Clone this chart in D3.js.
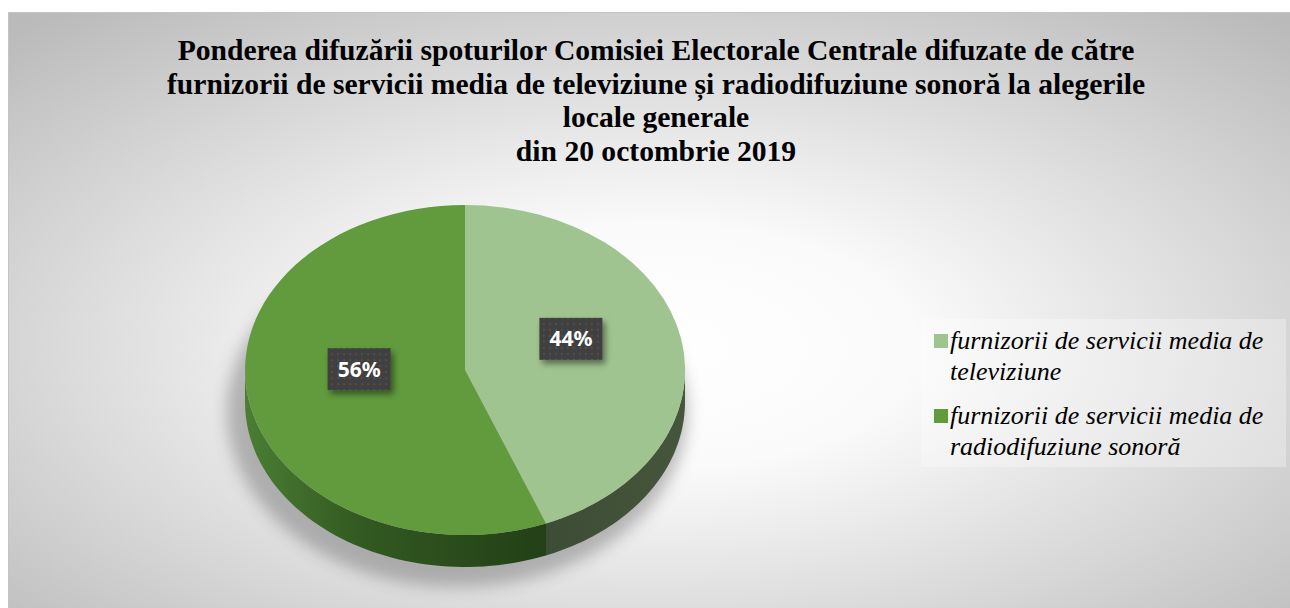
<!DOCTYPE html>
<html>
<head>
<meta charset="utf-8">
<script src="https://cdn.jsdelivr.net/npm/d3@7"></script>
<style>
  body { margin: 0; background: #fff; }
  svg { display: block; }
</style>
</head>
<body>
<svg id="chart" width="1290" height="608"></svg>
<script>
// data
var titleLines = [
  'Ponderea difuzării spoturilor Comisiei Electorale Centrale difuzate de către',
  'furnizorii de servicii media de televiziune și radiodifuziune sonoră la alegerile',
  'locale generale',
  'din 20 octombrie 2019'
];
var categories = [
  'furnizorii de servicii media de televiziune',
  'furnizorii de servicii media de radiodifuziune sonoră'
];
var values = [44, 56];
var pctLabels = ['44%', '56%'];
var topColors = ['#a0c48f', '#619b3d'];

var W = 1290, H = 608;
var svg = d3.select('#chart');
var defs = svg.append('defs');

// background gradient
var bg = defs.append('radialGradient').attr('id', 'bg')
    .attr('cx', '0.5').attr('cy', '0.55').attr('r', '0.72');
bg.append('stop').attr('offset', '0').attr('stop-color', '#ffffff');
bg.append('stop').attr('offset', '0.28').attr('stop-color', '#fafafa');
bg.append('stop').attr('offset', '1').attr('stop-color', '#bababa');

svg.append('rect')
   .attr('x', 8.5).attr('y', 12.5)
   .attr('width', W).attr('height', H)
   .attr('fill', 'url(#bg)')
   .attr('stroke', '#c4c4c4');

// title
svg.append('g').selectAll('text')
   .data(titleLines)
   .enter()
   .append('text')
   .attr('x', 656)
   .attr('y', (d, i) => 60 + i * 33.7)
   .attr('text-anchor', 'middle')
   .attr('font-family', '"Liberation Serif", "Times New Roman", serif')
   .attr('font-weight', 'bold')
   .attr('font-size', '29.6px')
   .attr('fill', '#000')
   .text(d => d);

// pie geometry
var cx = 465, cy = 370, rx = 220, ry = 165, depth = 32;

var pie = d3.pie().sort(null).value(d => d);
var arcs = pie(values);

function pt(a, dy) {
  return [cx + rx * Math.sin(a), cy - ry * Math.cos(a) + (dy || 0)];
}

// shadow
var sh = defs.append('filter').attr('id', 'pieShadow')
    .attr('x', '-20%').attr('y', '-20%').attr('width', '140%').attr('height', '150%');
sh.append('feGaussianBlur').attr('stdDeviation', 8);

var shadowG = svg.append('g').attr('filter', 'url(#pieShadow)').attr('opacity', 0.45);
shadowG.append('ellipse')
   .attr('cx', cx - 8).attr('cy', cy + depth + 10)
   .attr('rx', rx + 10).attr('ry', ry + 10)
   .attr('fill', '#6a6a6a');

// side gradients
var g1 = defs.append('linearGradient').attr('id', 'side1')
    .attr('gradientUnits', 'userSpaceOnUse')
    .attr('x1', cx - rx).attr('x2', cx + 100).attr('y1', 0).attr('y2', 0);
g1.append('stop').attr('offset', '0').attr('stop-color', '#4a7e33');
g1.append('stop').attr('offset', '0.35').attr('stop-color', '#335a22');
g1.append('stop').attr('offset', '1').attr('stop-color', '#213d15');

var g0 = defs.append('linearGradient').attr('id', 'side0')
    .attr('gradientUnits', 'userSpaceOnUse')
    .attr('x1', cx + 80).attr('x2', cx + rx).attr('y1', 0).attr('y2', 0);
g0.append('stop').attr('offset', '0').attr('stop-color', '#3d4c35');
g0.append('stop').attr('offset', '1').attr('stop-color', '#46563c');

var sideFills = ['url(#side0)', 'url(#side1)'];

var line = d3.line();
function sidePath(d) {
  var a0 = Math.max(d.startAngle, Math.PI / 2);
  var a1 = Math.min(d.endAngle, Math.PI * 1.5);
  if (a1 <= a0) return null;
  var n = 60, top = [], bot = [];
  for (var i = 0; i <= n; i++) {
    var a = a0 + (a1 - a0) * i / n;
    top.push(pt(a, 0));
    bot.push(pt(a, depth));
  }
  return line(top.concat(bot.reverse())) + 'Z';
}

svg.append('g').selectAll('path')
   .data(arcs)
   .enter()
   .append('path')
   .attr('d', d => sidePath(d))
   .attr('fill', (d, i) => sideFills[i]);

// top face
var arc = d3.arc().innerRadius(0).outerRadius(1);
svg.append('g')
   .attr('transform', 'translate(' + cx + ',' + cy + ') scale(' + rx + ',' + ry + ')')
   .selectAll('path')
   .data(arcs)
   .enter()
   .append('path')
   .attr('d', arc)
   .attr('fill', (d, i) => topColors[i]);

// data labels
var pat = defs.append('pattern').attr('id', 'dots')
    .attr('patternUnits', 'userSpaceOnUse')
    .attr('width', 6).attr('height', 6);
pat.append('rect').attr('width', 6).attr('height', 6).attr('fill', '#404040');
pat.append('circle').attr('cx', 3).attr('cy', 3).attr('r', 1).attr('fill', '#555555');

var ls = defs.append('filter').attr('id', 'lblShadow')
    .attr('x', '-30%').attr('y', '-30%').attr('width', '170%').attr('height', '180%');
ls.append('feDropShadow').attr('dx', 3).attr('dy', 4).attr('stdDeviation', 3)
  .attr('flood-color', '#000').attr('flood-opacity', 0.45);

var labelArc = d3.arc().innerRadius(0).outerRadius(1);
var lbl = svg.append('g').selectAll('g')
   .data(arcs)
   .enter()
   .append('g')
   .attr('transform', function(d) {
     var c = labelArc.centroid(d);
     return 'translate(' + (cx + c[0] * rx * 0.98) + ',' + (cy + c[1] * ry * 0.98 - 16) + ')';
   });

lbl.append('rect')
   .attr('x', -31.5).attr('y', -21)
   .attr('width', 63).attr('height', 42)
   .attr('fill', 'url(#dots)')
   .attr('filter', 'url(#lblShadow)');

lbl.append('text')
   .attr('text-anchor', 'middle')
   .attr('y', 7.5)
   .attr('font-family', '"Noto Sans", "Open Sans", sans-serif')
   .attr('font-weight', 'bold')
   .attr('font-size', '21px')
   .attr('fill', '#fff')
   .text((d, i) => pctLabels[i]);

// legend
svg.append('rect')
   .attr('x', 921).attr('y', 319)
   .attr('width', 365).attr('height', 148)
   .attr('fill', '#ffffff').attr('fill-opacity', 0.3);

var legend = svg.append('g').selectAll('g')
   .data(categories)
   .enter()
   .append('g')
   .attr('transform', (d, i) => 'translate(934,' + (334 + i * 75) + ')');

legend.append('rect')
   .attr('width', 14).attr('height', 14)
   .attr('fill', (d, i) => topColors[i]);

legend.append('text')
   .attr('font-family', '"Liberation Serif", "Times New Roman", serif')
   .attr('font-style', 'italic')
   .attr('font-size', '26px')
   .attr('fill', '#000')
   .each(function(d) {
     var t = d3.select(this);
     var words = d.split(' ');
     var lines = [], cur = [];
     var probe = t.append('tspan');
     words.forEach(function(w) {
       var test = cur.concat([w]).join(' ');
       probe.text(test);
       if (probe.node().getComputedTextLength() > 330 && cur.length) {
         lines.push(cur.join(' '));
         cur = [w];
       } else {
         cur.push(w);
       }
     });
     lines.push(cur.join(' '));
     probe.remove();
     t.selectAll('tspan').data(lines).enter().append('tspan')
      .attr('x', 16)
      .attr('y', (l, k) => 15 + k * 31)
      .text(l => l);
   });
</script>
</body>
</html>
